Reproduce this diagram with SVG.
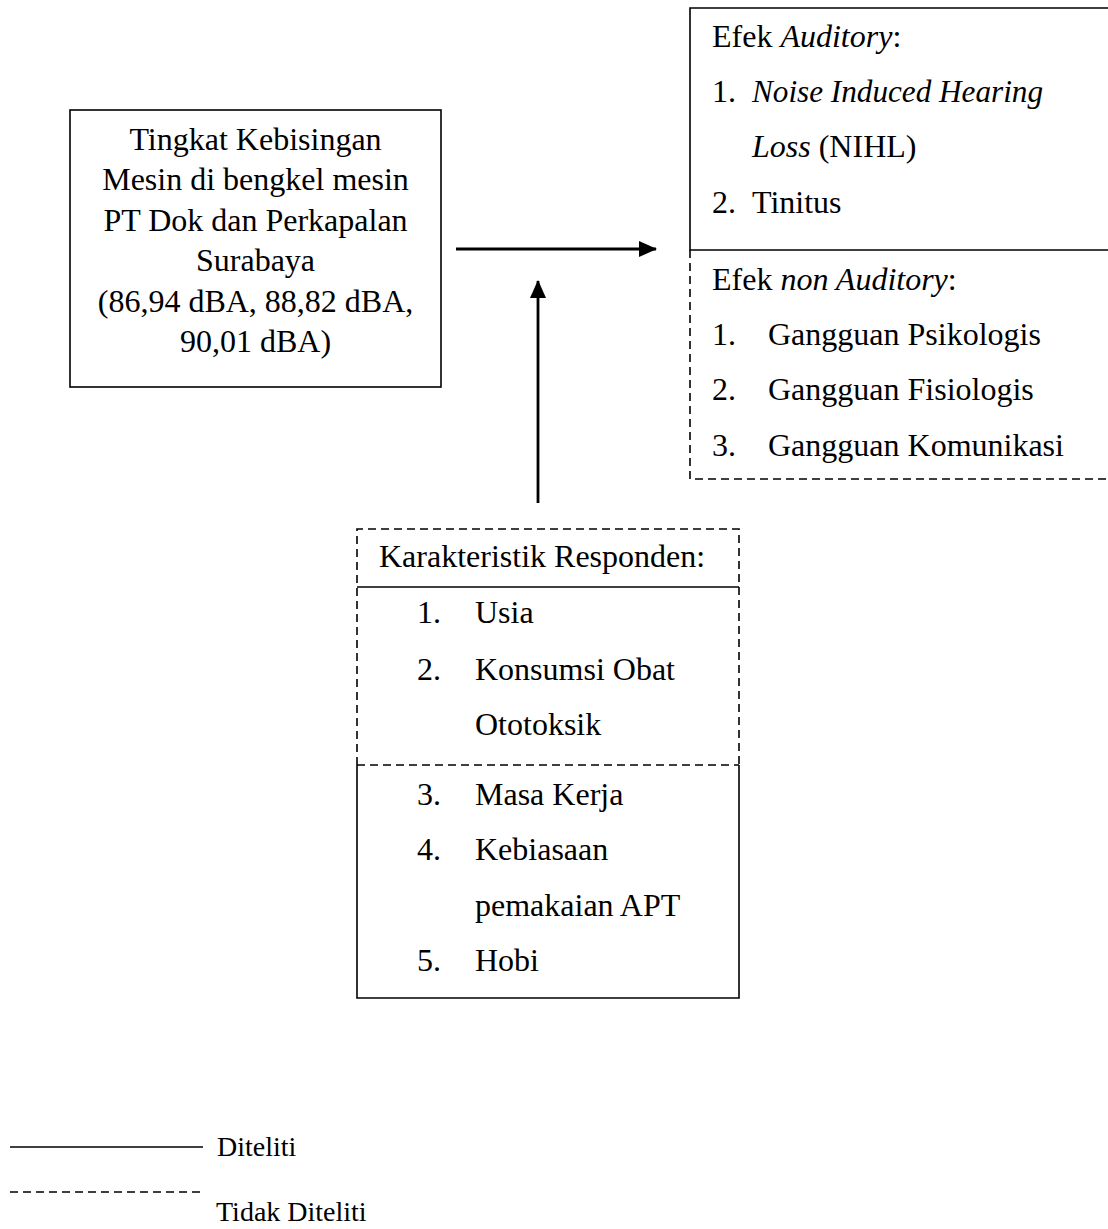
<svg xmlns="http://www.w3.org/2000/svg" width="1108" height="1229" viewBox="0 0 1108 1229">
<defs>
<style>
text{font-family:"Liberation Serif","Times New Roman",serif;font-size:32px;fill:#000}
.it{font-style:italic}
.s{fill:none;stroke:#000;stroke-width:1.6}
.d{fill:none;stroke:#000;stroke-width:1.6;stroke-dasharray:8 5}
.c{fill:none;stroke:#000;stroke-width:2.8}
.lg{font-size:28px}
</style>
<marker id="ah" markerUnits="userSpaceOnUse" markerWidth="18" markerHeight="18" viewBox="0 0 18 18" refX="17" refY="9" orient="auto">
<path d="M0,1 L18,9 L0,17 Z" fill="#000"/>
</marker>
</defs>
<rect width="1108" height="1229" fill="#fff"/>

<g id="node-kebisingan">
<rect class="s" x="70" y="110" width="371" height="277"/>
<text x="255.5" y="150" text-anchor="middle">Tingkat Kebisingan</text>
<text x="255.5" y="190" text-anchor="middle">Mesin di bengkel mesin</text>
<text x="255.5" y="231" text-anchor="middle">PT Dok dan Perkapalan</text>
<text x="255.5" y="271" text-anchor="middle">Surabaya</text>
<text x="255.5" y="312" text-anchor="middle">(86,94 dBA, 88,82 dBA,</text>
<text x="255.5" y="352" text-anchor="middle">90,01 dBA)</text>
</g>

<g id="node-efek">
<path class="s" d="M1108,8 H690 V250 H1108"/>
<path class="d" d="M690,250 V479 H1108"/>
<text x="712" y="47">Efek <tspan class="it">Auditory</tspan>:</text>
<text x="712" y="102">1.</text>
<text x="752" y="102" class="it" textLength="291" lengthAdjust="spacingAndGlyphs">Noise Induced Hearing</text>
<text x="752" y="157"><tspan class="it">Loss</tspan> (NIHL)</text>
<text x="712" y="213">2.</text>
<text x="752" y="213">Tinitus</text>
<text x="712" y="290">Efek <tspan class="it">non Auditory</tspan>:</text>
<text x="712" y="345">1.</text>
<text x="768" y="345">Gangguan Psikologis</text>
<text x="712" y="400">2.</text>
<text x="768" y="400">Gangguan Fisiologis</text>
<text x="712" y="456">3.</text>
<text x="768" y="456">Gangguan Komunikasi</text>
</g>

<g id="node-karakteristik">
<path class="d" d="M357,765 V529 H739 V765"/>
<path class="s" d="M357,587 H739"/>
<path class="d" d="M357,765 H739"/>
<path class="s" d="M357,765 V998 H739 V765"/>
<text x="379" y="567">Karakteristik Responden:</text>
<text x="417" y="623">1.</text>
<text x="475" y="623">Usia</text>
<text x="417" y="680">2.</text>
<text x="475" y="680">Konsumsi Obat</text>
<text x="475" y="735">Ototoksik</text>
<text x="417" y="805">3.</text>
<text x="475" y="805">Masa Kerja</text>
<text x="417" y="860">4.</text>
<text x="475" y="860">Kebiasaan</text>
<text x="475" y="916">pemakaian APT</text>
<text x="417" y="971">5.</text>
<text x="475" y="971">Hobi</text>
</g>

<g id="connectors">
<line class="c" x1="456" y1="249" x2="656" y2="249" marker-end="url(#ah)"/>
<line class="c" x1="538" y1="503" x2="538" y2="281" marker-end="url(#ah)"/>
</g>

<g id="legend">
<line class="s" x1="10" y1="1147" x2="203" y2="1147"/>
<text class="lg" x="217" y="1156">Diteliti</text>
<line class="d" x1="10" y1="1192" x2="200" y2="1192"/>
<text class="lg" x="216" y="1221">Tidak Diteliti</text>
</g>
</svg>
